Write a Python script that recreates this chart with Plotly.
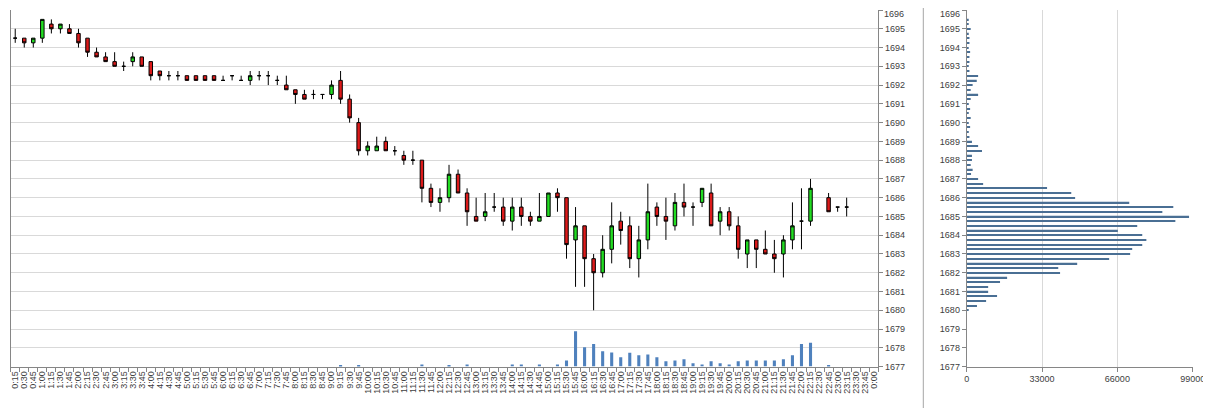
import plotly.graph_objects as go

# ---------------- data ----------------
times = []
for k in range(1, 97):
    m = (k * 15) % (24 * 60)
    times.append(f"{m // 60}:{m % 60:02d}")

opens = [1694.5, 1694.5, 1694.25, 1694.5, 1695.25, 1695.0, 1695.0, 1694.75, 1694.5, 1693.75,
         1693.5, 1693.25, 1693.0, 1693.25, 1693.5, 1693.25, 1692.75, 1692.5, 1692.5, 1692.5,
         1692.5, 1692.5, 1692.5, 1692.25, 1692.5, 1692.25, 1692.25, 1692.5, 1692.5, 1692.25,
         1692.0, 1691.75, 1691.5, 1691.5, 1691.5, 1691.5, 1692.25, 1691.25, 1690.0, 1688.5,
         1688.5, 1689.0, 1688.5, 1688.25, 1688.0, 1688.0, 1686.5, 1685.75, 1686.0, 1687.25,
         1686.25, 1685.0, 1685.0, 1685.5, 1685.5, 1684.75, 1685.5, 1685.0, 1684.75, 1685.0,
         1686.25, 1686.0, 1683.75, 1684.5, 1682.75, 1682.0, 1683.25, 1684.75, 1684.5, 1682.75,
         1683.75, 1685.5, 1685.0, 1684.5, 1685.75, 1685.5, 1685.75, 1686.25, 1684.75, 1685.25,
         1684.5, 1683.0, 1683.75, 1683.25, 1683.0, 1683.0, 1683.75, 1684.75, 1684.75, None,
         1686.0, 1685.5, 1685.5, None, None, None]
highs = [1695.0, 1694.5, 1694.5, 1695.5, 1695.5, 1695.25, 1695.25, 1695.0, 1694.5, 1694.0,
         1693.75, 1693.75, 1693.25, 1693.75, 1693.5, 1693.25, 1692.75, 1692.75, 1692.75, 1692.5,
         1692.5, 1692.5, 1692.5, 1692.5, 1692.5, 1692.5, 1692.75, 1692.75, 1692.75, 1692.5,
         1692.5, 1691.75, 1691.75, 1691.75, 1691.5, 1692.25, 1692.75, 1691.5, 1690.25, 1689.0,
         1689.25, 1689.25, 1688.75, 1688.5, 1688.5, 1688.0, 1686.75, 1686.5, 1687.75, 1687.5,
         1686.5, 1686.0, 1686.25, 1686.25, 1686.0, 1686.0, 1686.0, 1685.25, 1686.25, 1686.25,
         1686.5, 1686.0, 1685.5, 1684.5, 1683.0, 1684.0, 1685.75, 1685.25, 1685.0, 1684.5,
         1686.75, 1685.75, 1686.0, 1686.25, 1686.75, 1685.75, 1686.5, 1686.75, 1685.5, 1685.5,
         1685.0, 1683.75, 1683.75, 1684.25, 1683.75, 1684.0, 1685.75, 1686.5, 1687.0, None,
         1686.25, 1685.5, 1686.0, None, None, None]
lows = [1694.25, 1694.0, 1694.0, 1694.25, 1694.75, 1694.75, 1694.75, 1694.0, 1693.5, 1693.5,
        1693.25, 1693.0, 1692.75, 1693.0, 1693.0, 1692.25, 1692.25, 1692.25, 1692.25, 1692.25,
        1692.25, 1692.25, 1692.25, 1692.25, 1692.25, 1692.25, 1692.0, 1692.25, 1692.0, 1692.0,
        1691.75, 1691.0, 1691.25, 1691.25, 1691.25, 1691.25, 1691.0, 1690.0, 1688.25, 1688.25,
        1688.5, 1688.5, 1688.25, 1687.75, 1687.75, 1685.75, 1685.5, 1685.25, 1685.75, 1686.25,
        1684.5, 1684.75, 1684.75, 1685.25, 1684.5, 1684.25, 1684.5, 1684.5, 1684.75, 1685.0,
        1685.25, 1682.75, 1681.25, 1681.25, 1680.0, 1681.75, 1682.5, 1683.5, 1682.25, 1681.75,
        1683.25, 1684.5, 1683.75, 1684.25, 1685.0, 1684.5, 1685.5, 1684.5, 1684.0, 1684.25,
        1682.75, 1682.25, 1682.25, 1683.0, 1682.0, 1681.75, 1683.25, 1683.25, 1684.5, None,
        1685.25, 1685.25, 1685.0, None, None, None]
closes = [1694.5, 1694.25, 1694.5, 1695.5, 1695.0, 1695.25, 1694.75, 1694.25, 1693.75, 1693.5,
          1693.25, 1693.0, 1693.0, 1693.5, 1693.0, 1692.5, 1692.5, 1692.5, 1692.5, 1692.25,
          1692.25, 1692.25, 1692.25, 1692.25, 1692.5, 1692.25, 1692.5, 1692.5, 1692.5, 1692.25,
          1691.75, 1691.5, 1691.25, 1691.5, 1691.5, 1692.0, 1691.25, 1690.25, 1688.5, 1688.75,
          1688.75, 1688.5, 1688.5, 1688.0, 1688.0, 1686.5, 1685.75, 1686.0, 1687.25, 1686.25,
          1685.25, 1684.75, 1685.25, 1685.5, 1684.75, 1685.5, 1685.0, 1684.75, 1685.0, 1686.25,
          1686.0, 1683.5, 1684.5, 1682.75, 1682.0, 1683.25, 1684.5, 1684.25, 1682.75, 1683.75,
          1685.25, 1685.0, 1684.75, 1685.75, 1685.5, 1685.5, 1686.5, 1684.5, 1685.25, 1684.5,
          1683.25, 1683.75, 1683.25, 1683.0, 1682.75, 1683.75, 1684.5, 1684.75, 1686.5, None,
          1685.25, 1685.5, 1685.5, None, None, None]

volumes = [0, 0, 0, 0, 0, 0, 0, 0, 0, 0,
           0, 0, 0, 0, 0, 0, 0, 0, 0, 0,
           0, 0, 0, 0, 0, 0, 0, 0, 0, 0,
           0, 0, 0, 0, 0, 0, 4500, 0, 4500, 0,
           0, 0, 0, 0, 0, 10000, 0, 0, 6000, 0,
           10000, 0, 0, 0, 0, 10000, 10000, 0, 10000, 0,
           10000, 28000, 159000, 87000, 102000, 69000, 64000, 42000, 62000, 51000,
           55000, 42000, 24000, 28000, 33000, 15000, 10000, 24000, 15000, 10000,
           24000, 28000, 28000, 28000, 28000, 33000, 51000, 102000, 107000, 0,
           6000, 0, 0, 0, 0, 0]

profile_prices = [1695.5, 1695.25, 1695.0, 1694.75, 1694.5, 1694.25, 1694.0, 1693.75, 1693.5, 1693.25,
                  1693.0, 1692.75, 1692.5, 1692.25, 1692.0, 1691.75, 1691.5, 1691.25, 1691.0, 1690.75,
                  1690.5, 1690.25, 1690.0, 1689.75, 1689.5, 1689.25, 1689.0, 1688.75, 1688.5, 1688.25,
                  1688.0, 1687.75, 1687.5, 1687.25, 1687.0, 1686.75, 1686.5, 1686.25, 1686.0, 1685.75,
                  1685.5, 1685.25, 1685.0, 1684.75, 1684.5, 1684.25, 1684.0, 1683.75, 1683.5, 1683.25,
                  1683.0, 1682.75, 1682.5, 1682.25, 1682.0, 1681.75, 1681.5, 1681.25, 1681.0, 1680.75,
                  1680.5, 1680.25, 1680.0]
profile_volumes = [600, 500, 1750, 900, 1200, 1200, 600, 1500, 1200, 1200,
                   900, 1200, 5000, 4400, 2600, 1750, 5000, 1750, 900, 1500,
                   900, 1750, 900, 1500, 900, 1200, 2300, 5000, 6700, 2300,
                   2300, 1750, 2600, 1900, 5000, 7200, 35200, 45800, 47500, 71200,
                   90500, 85700, 97400, 91400, 74700, 66200, 76900, 78700, 76900, 72500,
                   71600, 62400, 48400, 40100, 40900, 17700, 14600, 9400, 9400, 13300,
                   8500, 4500, 600]

price_ticks = list(range(1677, 1697))
profile_ticks = [0, 33000, 66000, 99000]

# ---------------- figure ----------------
# the page body adds an 8px margin, so the figure is drawn 8px smaller and
# all positions are shifted by that offset
OFF = 8
W, H = 1211 - OFF, 408 - OFF
FONT = "Liberation Sans, Arial, sans-serif"
GRID = "#d9d9d9"
AXIS = "#868686"
TXT = "#404040"


def px_x(v):
    return (v - OFF) / W


def px_y(v):
    return (H - (v - OFF)) / H


y_dom = [px_y(366.6), px_y(10)]

# the top price label would be clipped at the figure edge as a tick label,
# so it is written as an annotation that sits just inside the figure
top_price = price_ticks[-1]
price_text = [str(v) if v != top_price else "" for v in price_ticks]

fig = go.Figure()

fig.add_trace(go.Bar(
    x=times, y=volumes, marker=dict(color="#4f81bd", line=dict(width=0)),
    xaxis="x", yaxis="y2", hoverinfo="skip"))

fig.add_trace(go.Candlestick(
    x=times, open=opens, high=highs, low=lows, close=closes,
    increasing=dict(line=dict(color="black", width=1), fillcolor="#22dd22"),
    decreasing=dict(line=dict(color="black", width=1), fillcolor="#dd1a1a"),
    whiskerwidth=0, xaxis="x", yaxis="y"))

fig.add_trace(go.Bar(
    x=profile_volumes, y=profile_prices, orientation="h", width=0.07,
    marker=dict(color="#4a6f94", line=dict(width=0)),
    xaxis="x3", yaxis="y3", hoverinfo="skip"))

fig.update_layout(
    width=W, height=H,
    margin=dict(l=0, r=0, t=0, b=0, autoexpand=False),
    paper_bgcolor="white", plot_bgcolor="white",
    showlegend=False,
    font=dict(family=FONT, size=9, color=TXT),
    bargap=0.66, boxgap=0.45,
    xaxis=dict(
        domain=[px_x(10.7), px_x(878.3)], type="category",
        categoryorder="array", categoryarray=times,
        tickmode="linear", tick0=0, dtick=1,
        tickson="boundaries", ticks="outside", ticklen=4, tickcolor=AXIS,
        tickangle=-90, tickfont=dict(size=9, color=TXT, family=FONT),
        showline=True, linecolor=AXIS, linewidth=1, showgrid=False,
        rangeslider=dict(visible=False), anchor="y", automargin=False,
        ticklabeloverflow="allow", range=[-0.5, 95.5],
    ),
    yaxis=dict(
        domain=y_dom, range=[1677, 1696], side="right",
        tickmode="array", tickvals=price_ticks, ticktext=price_text,
        ticks="outside", ticklen=4, tickcolor=AXIS,
        showline=True, linecolor=AXIS, mirror=True,
        showgrid=True, gridcolor=GRID, gridwidth=1, zeroline=False,
        tickfont=dict(size=9, color=TXT, family=FONT), anchor="x", automargin=False,
        ticklabeloverflow="allow",
    ),
    yaxis2=dict(
        domain=y_dom, overlaying="y", range=[0, 357 * 4500],
        visible=False, showgrid=False, anchor="x", automargin=False,
    ),
    xaxis3=dict(
        domain=[px_x(966.7), px_x(1192.7)], range=[0, 99000],
        tickmode="array", tickvals=profile_ticks, ticktext=[str(v) for v in profile_ticks],
        ticks="outside", ticklen=4, tickcolor=AXIS,
        showline=True, linecolor=AXIS, showgrid=True, gridcolor=GRID, zeroline=False,
        tickfont=dict(size=9, color=TXT, family=FONT), anchor="y3", automargin=False,
        ticklabeloverflow="allow",
    ),
    yaxis3=dict(
        domain=y_dom, range=[1677, 1696], side="left",
        tickmode="array", tickvals=price_ticks, ticktext=price_text,
        ticks="outside", ticklen=4, tickcolor=AXIS,
        showline=True, linecolor=AXIS, showgrid=False, zeroline=False,
        tickfont=dict(size=9, color=TXT, family=FONT), anchor="x3", automargin=False,
        ticklabeloverflow="allow",
    ),
    shapes=[dict(type="line", xref="paper", yref="paper",
                 x0=px_x(923.3), x1=px_x(923.3), y0=0, y1=1,
                 line=dict(color="#a6a6a6", width=1))],
    annotations=[
        dict(text=str(top_price), xref="paper", yref="paper",
             x=px_x(878.3), y=1, xanchor="left", yanchor="top",
             xshift=5, showarrow=False, borderpad=0,
             font=dict(size=9, color=TXT, family=FONT)),
        dict(text=str(top_price), xref="paper", yref="paper",
             x=px_x(966.7), y=1, xanchor="right", yanchor="top",
             xshift=-6, showarrow=False, borderpad=0,
             font=dict(size=9, color=TXT, family=FONT)),
    ],
)

fig.write_html("out.html")
